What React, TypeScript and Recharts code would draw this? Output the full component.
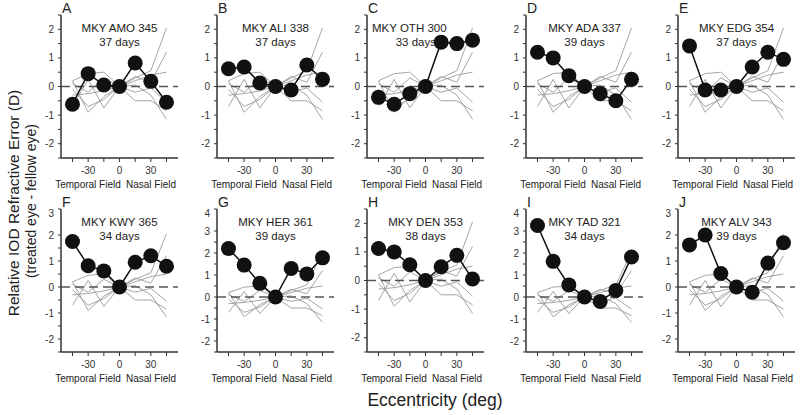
import { LineChart, Line, XAxis, YAxis, ReferenceLine } from "recharts";

// eccentricity (deg), temporal field negative
const ECC = [-45, -30, -15, 0, 15, 30, 45];

// control animals (thin gray lines, same in every panel)
const CTRL_1 = [0.2, 0.45, 0.5, 0, 0.3, 0.55, 2.05];
const CTRL_2 = [0.1, -0.2, 0.3, 0, 0.35, 0.15, 1.2];
const CTRL_3 = [-0.3, -0.25, -0.15, 0, 0.2, 0.4, 0.5];
const CTRL_4 = [-0.7, 0.25, -0.75, 0, -0.5, -0.5, -0.85];
const CTRL_5 = [0.2, -0.9, -0.35, 0, 0.05, -0.3, -1.15];
const CTRL_6 = [-0.1, -0.7, -0.45, 0, -0.2, -0.05, -0.55];
const CONTROLS = [CTRL_1, CTRL_2, CTRL_3, CTRL_4, CTRL_5, CTRL_6];

// treated animals
const AMO = [-0.62, 0.45, 0.05, 0, 0.82, 0.18, -0.55];
const ALI = [0.62, 0.68, 0.12, 0, -0.12, 0.75, 0.25];
const OTH = [-0.38, -0.62, -0.25, 0, 1.55, 1.5, 1.62];
const ADA = [1.2, 1.0, 0.38, 0, -0.25, -0.5, 0.25];
const EDG = [1.42, -0.12, -0.12, 0, 0.68, 1.2, 0.95];
const KWY = [1.75, 0.82, 0.62, 0, 0.95, 1.2, 0.8];
const HER = [2.2, 1.45, 0.62, 0, 1.3, 1.05, 1.78];
const DEN = [1.12, 1.0, 0.55, 0, 0.48, 0.88, 0.05];
const TAD = [3.25, 1.62, 0.55, 0, -0.2, 0.3, 1.82];
const ALV = [1.62, 2.0, 0.52, 0, -0.2, 0.92, 1.7];

const LETTERS = ["A", "B", "C", "D", "E", "F", "G", "H", "I", "J"];
const NAMES = [
  "MKY AMO 345", "MKY ALI 338", "MKY OTH 300", "MKY ADA 337", "MKY EDG 354",
  "MKY KWY 365", "MKY HER 361", "MKY DEN 353", "MKY TAD 321", "MKY ALV 343",
];
const DAYS = [
  "37 days", "37 days", "33 days", "39 days", "37 days",
  "34 days", "39 days", "38 days", "34 days", "39 days",
];
const VALUES = [AMO, ALI, OTH, ADA, EDG, KWY, HER, DEN, TAD, ALV];
const Y_MAX = [2.5, 2.5, 2.5, 2.5, 2.5, 3, 4, 2.5, 4, 3];
const Y_MIN = -2.5;
const X_TICKS = [-45, -30, -15, 0, 15, 30, 45];
const X_DOMAIN = [-56, 56];

const PLOT_W = 117;
const PLOT_H = 143;
const YAXIS_W = 24;
const XAXIS_H = 22;
const COL_X = [61, 217, 367, 526, 678];
const ROW_Y = [15, 208.5];
const FONT = "'Liberation Sans', Arial, sans-serif";
const DARK = "#333333";
const LIGHT = "#8a8a8a";

function Panel({ i }: { i: number }) {
  const left = COL_X[i % 5];
  const top = ROW_Y[Math.floor(i / 5)];
  const yMax = Y_MAX[i];
  const yTicks: number[] = [];
  for (let v = Y_MIN; v <= yMax + 0.001; v += 0.5) yTicks.push(v);
  const data = ECC.map((x, k) => ({
    x,
    v: VALUES[i][k],
    c0: CONTROLS[0][k],
    c1: CONTROLS[1][k],
    c2: CONTROLS[2][k],
    c3: CONTROLS[3][k],
    c4: CONTROLS[4][k],
    c5: CONTROLS[5][k],
  }));
  const isC = LETTERS[i] === "C";
  const tick = { fontSize: 10, fill: "#333", fontFamily: FONT };

  return (
    <>
      <div
        style={{
          position: "absolute",
          left: left - YAXIS_W,
          top: top - 1,
        }}
      >
        <LineChart
          width={YAXIS_W + PLOT_W + 2}
          height={1 + PLOT_H + XAXIS_H}
          data={data}
          margin={{ top: 1, right: 2, left: 0, bottom: 0 }}
        >
          <XAxis
            xAxisId="b"
            type="number"
            dataKey="x"
            domain={X_DOMAIN}
            ticks={X_TICKS}
            tickFormatter={(v: number) => (v % 30 === 0 ? String(v) : "")}
            tick={tick}
            tickSize={4}
            tickMargin={5}
            height={XAXIS_H}
            stroke={DARK}
            axisLine={{ stroke: DARK, strokeWidth: 1.5 }}
            tickLine={{ stroke: DARK }}
          />
          <XAxis
            xAxisId="t"
            orientation="top"
            type="number"
            dataKey="x"
            domain={X_DOMAIN}
            ticks={X_TICKS}
            tick={false}
            mirror
            tickSize={3}
            height={0}
            stroke={LIGHT}
            axisLine={{ stroke: LIGHT, strokeWidth: 2 }}
            tickLine={{ stroke: LIGHT }}
          />
          <YAxis
            yAxisId="l"
            type="number"
            domain={[Y_MIN, yMax]}
            ticks={yTicks}
            tickFormatter={(v: number) => (Number.isInteger(v) ? String(v) : "")}
            tick={tick}
            tickSize={3}
            tickMargin={4}
            width={YAXIS_W}
            stroke={DARK}
            axisLine={{ stroke: DARK, strokeWidth: 1.5 }}
            tickLine={{ stroke: DARK }}
          />
          <YAxis
            yAxisId="r"
            orientation="right"
            type="number"
            domain={[Y_MIN, yMax]}
            ticks={yTicks}
            tick={false}
            mirror
            tickSize={3}
            width={0}
            stroke={LIGHT}
            axisLine={{ stroke: LIGHT, strokeWidth: 1.5 }}
            tickLine={{ stroke: LIGHT }}
          />
          {CONTROLS.map((_, k) => (
            <Line
              key={k}
              xAxisId="b"
              yAxisId="l"
              type="linear"
              dataKey={`c${k}`}
              stroke="#9a9a9a"
              strokeWidth={0.9}
              dot={false}
              isAnimationActive={false}
            />
          ))}
          <ReferenceLine
            xAxisId="b"
            yAxisId="l"
            y={0}
            stroke="#555"
            strokeWidth={1.6}
            strokeDasharray="9 5"
          />
          <Line
            xAxisId="b"
            yAxisId="l"
            type="linear"
            dataKey="v"
            stroke="#111"
            strokeWidth={1.5}
            dot={{ r: 7.5, fill: "#111", stroke: "#111", strokeWidth: 0 }}
            isAnimationActive={false}
          />
        </LineChart>
      </div>
      <div
        style={{
          position: "absolute",
          left: left + 1,
          top: top - 15,
          fontSize: 14,
          color: "#222",
        }}
      >
        {LETTERS[i]}
      </div>
      <div
        style={{
          position: "absolute",
          left: isC ? left + 5 : left,
          width: isC ? 78 : PLOT_W,
          top: top + 6,
          fontSize: 11.5,
          lineHeight: "14px",
          color: "#222",
          textAlign: isC ? "right" : "center",
        }}
      >
        <div style={{ textAlign: isC ? "left" : "center" }}>{NAMES[i]}</div>
        <div style={{ paddingRight: isC ? 14 : 0 }}>{DAYS[i]}</div>
      </div>
      {[
        { label: "Temporal Field", cx: 27 },
        { label: "Nasal Field", cx: 90 },
      ].map((f) => (
        <div
          key={f.label}
          style={{
            position: "absolute",
            left: left + f.cx,
            top: top + PLOT_H + 21,
            transform: "translateX(-50%)",
            fontSize: 10,
            color: "#222",
            whiteSpace: "nowrap",
          }}
        >
          {f.label}
        </div>
      ))}
    </>
  );
}

export default function App() {
  return (
    <div
      style={{
        position: "absolute",
        left: 0,
        top: 0,
        width: 800,
        height: 415,
        background: "#fff",
        fontFamily: FONT,
        overflow: "hidden",
      }}
    >
      {LETTERS.map((_, i) => (
        <Panel key={i} i={i} />
      ))}
      <div
        style={{
          position: "absolute",
          left: 14,
          top: 203,
          transform: "translate(-50%, -50%) rotate(-90deg)",
          whiteSpace: "nowrap",
          fontSize: 15.5,
          color: "#222",
        }}
      >
        Relative IOD Refractive Error (D)
      </div>
      <div
        style={{
          position: "absolute",
          left: 31,
          top: 201,
          transform: "translate(-50%, -50%) rotate(-90deg)",
          whiteSpace: "nowrap",
          fontSize: 14,
          color: "#222",
        }}
      >
        (treated eye - fellow eye)
      </div>
      <div
        style={{
          position: "absolute",
          left: 435,
          top: 400,
          transform: "translate(-50%, -50%)",
          whiteSpace: "nowrap",
          fontSize: 17.5,
          color: "#222",
        }}
      >
        Eccentricity (deg)
      </div>
    </div>
  );
}
